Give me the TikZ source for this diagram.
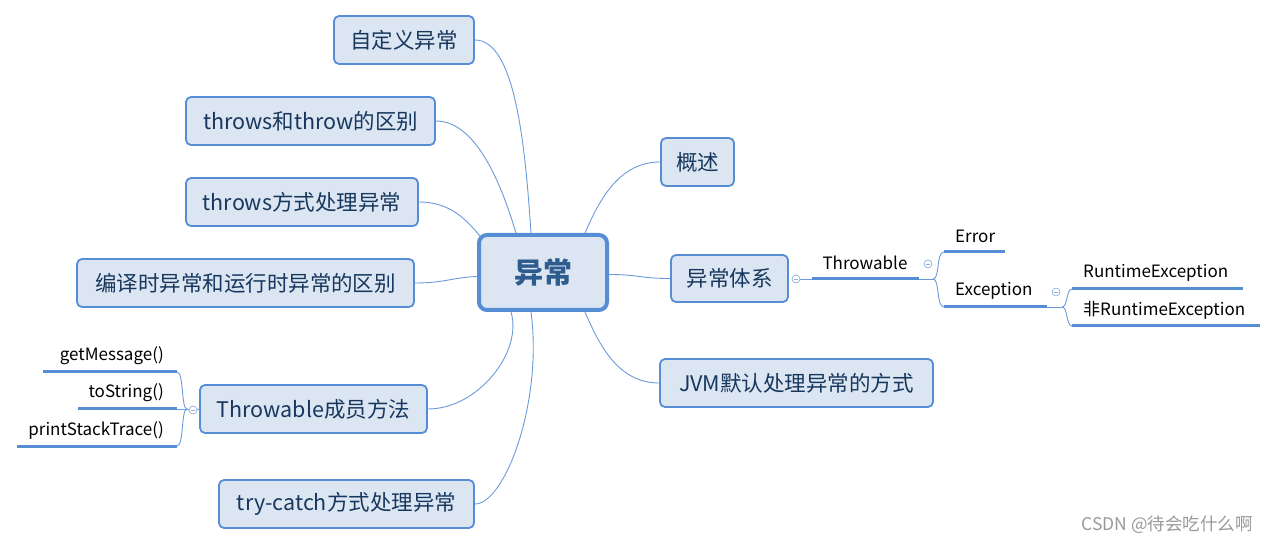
\documentclass[tikz,border=0pt]{standalone}
\usepackage{fontspec}
\setmainfont{Noto Sans CJK SC}
\usetikzlibrary{calc}
\definecolor{bord}{HTML}{558ED5}
\definecolor{boxfill}{HTML}{DCE6F2}
\definecolor{boxtext}{HTML}{17375E}
\definecolor{roottext}{HTML}{2E5C8F}
\definecolor{conn}{HTML}{6A9BD8}
\definecolor{foldc}{HTML}{8EAEDB}
\tikzset{
  topic/.style={draw=bord, line width=1.8pt, fill=boxfill, rounded corners=5pt,
    minimum height=48pt, inner sep=0pt, text=boxtext, font=\fontsize{21.5}{25}\selectfont},
  rootbox/.style={draw=bord, line width=4pt, fill=boxfill, rounded corners=8pt,
    minimum width=128pt, minimum height=75pt, inner sep=0pt, text=roottext,
    font=\fontsize{29}{34}\selectfont\bfseries},
  conline/.style={draw=conn, line width=0.9pt},
  subline/.style={draw=bord, line width=3pt},
  sublbl/.style={inner sep=0pt, text=black, font=\fontsize{17}{20}\selectfont},
  fold/.style={circle, draw=foldc, line width=0.7pt, fill=white, minimum size=8pt, inner sep=0pt,
    path picture={\draw[foldc, line width=0.7pt] ([xshift=-2.2pt]path picture bounding box.center) -- ([xshift=2.2pt]path picture bounding box.center);}}
}
\begin{document}
\begin{tikzpicture}[x=1pt,y=-1pt]
\useasboundingbox (0,0) rectangle (1278,545);
% main boxes
\node[rootbox] (root) at (543,272.5) {异常};
\node[topic, minimum width=140pt] (zdy) at (404,40) {自定义异常};
\node[topic, minimum width=249pt] (thr) at (310.5,121) {throws和throw的区别};
\node[topic, minimum width=232pt] (thf) at (302,202) {throws方式处理异常};
\node[topic, minimum width=337pt] (byl) at (245.5,283) {编译时异常和运行时异常的区别};
\node[topic, minimum width=227pt] (cy) at (313.5,409) {Throwable成员方法};
\node[topic, minimum width=255pt] (tc) at (346.5,504) {try-catch方式处理异常};
\node[topic, minimum width=73pt] (gs) at (697.5,162) {概述};
\node[topic, minimum width=117pt, minimum height=47pt] (tx) at (729.5,278.5) {异常体系};
\node[topic, minimum width=273pt] (jvm) at (796.5,383) {JVM默认处理异常的方式};
% connectors from root
\path[conline] (zdy.east) .. controls +(40,0) and +(-6,-90) .. ([xshift=-12pt]root.north);
\path[conline] (thr.east) .. controls +(40,0) and +(-15,-50) .. ([xshift=-27pt]root.north);
\path[conline] (thf.east) .. controls +(30,0) and +(-15,-18) .. ([xshift=3pt,yshift=-3pt]root.north west);
\path[conline] (byl.east) .. controls +(30,0) and +(-25,1) .. ([yshift=-4pt]root.west);
\path[conline] (gs.west) .. controls +(-40,0) and +(15,-35) .. ([xshift=42pt]root.north);
\path[conline] (tx.west) .. controls +(-30,0) and +(30,0) .. ([yshift=-2pt]root.east);
\path[conline] (jvm.west) .. controls +(-40,0) and +(15,35) .. ([xshift=42pt]root.south);
\path[conline] (cy.east) .. controls +(50,0) and +(12,40) .. ([xshift=-32pt]root.south);
\path[conline] (tc.east) .. controls +(30,0) and +(12,90) .. ([xshift=-12pt]root.south);
% right subtree
\node[fold] (f1) at (796,279) {};
\coordinate (tw0) at (812,279);
\coordinate (tw1) at (919,279);
\coordinate (b1) at (933,279);
\path[conline] (f1.east) -- (tw0);
\path[subline] (tw0) -- (tw1);
\path[conline] (tw1) -- (b1);
\node[sublbl] (tw) at (865,263) {Throwable};
\node[fold] (f2) at (928,264) {};
\coordinate (er0) at (944,252);
\coordinate (er1) at (1005,252);
\coordinate (ex0) at (944,307);
\coordinate (ex1) at (1047,307);
\path[conline] (b1) .. controls +(7,0) and +(-8,0) .. (er0);
\path[conline] (b1) .. controls +(7,0) and +(-8,0) .. (ex0);
\path[subline] (er0) -- (er1);
\path[subline] (ex0) -- (ex1);
\node[sublbl, anchor=west] (er) at (955,236) {Error};
\node[sublbl, anchor=west] (ex) at (955,291) {Exception};
\node[fold] (f3) at (1056,292) {};
\coordinate (b2) at (1062,307);
\path[conline] (ex1) -- (b2);
\coordinate (re0) at (1072,289);
\coordinate (re1) at (1243,289);
\coordinate (nr0) at (1072,326);
\coordinate (nr1) at (1260,326);
\path[conline] (b2) .. controls +(6,0) and +(-6,0) .. (re0);
\path[conline] (b2) .. controls +(6,0) and +(-6,0) .. (nr0);
\path[subline] (re0) -- (re1);
\path[subline] (nr0) -- (nr1);
\node[sublbl, anchor=west] (re) at (1083,273) {RuntimeException};
\node[sublbl, anchor=west] (nr) at (1083,310) {非RuntimeException};
% left subtree
\node[fold] (f4) at (193,410) {};
\coordinate (b3) at (187,409);
\path[conline] (cy.west) -- (f4.east);
\path[conline] (f4.west) -- (b3);
\coordinate (gm0) at (43,372);
\coordinate (gm1) at (177,372);
\coordinate (ts0) at (78,409);
\coordinate (ts1) at (177,409);
\coordinate (ps0) at (17,446);
\coordinate (ps1) at (177,446);
\path[conline] (b3) .. controls +(-6,0) and +(7,0) .. (gm1);
\path[conline] (b3) .. controls +(-6,0) and +(7,0) .. (ps1);
\path[conline] (b3) -- (ts1);
\path[subline] (gm0) -- (gm1);
\path[subline] (ts0) -- (ts1);
\path[subline] (ps0) -- (ps1);
\node[sublbl, anchor=east] (gm) at (164,356) {getMessage()};
\node[sublbl, anchor=east] (ts) at (164,393) {toString()};
\node[sublbl, anchor=east] (ps) at (164,430) {printStackTrace()};
% watermark
\node[text=gray!80, font=\fontsize{17.5}{20}\selectfont, inner sep=0pt] (wm) at (1167,525) {CSDN @待会吃什么啊};
\end{tikzpicture}
\end{document}
